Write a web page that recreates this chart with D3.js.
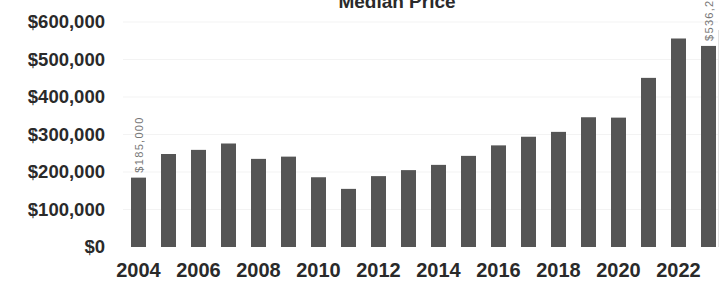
<!DOCTYPE html>
<html>
<head>
<meta charset="utf-8">
<script src="https://cdn.jsdelivr.net/npm/d3@7"></script>
<style>
  html, body { margin: 0; padding: 0; background: #fff; }
  svg { display: block; font-family: "Liberation Sans", Arial, sans-serif; }
</style>
</head>
<body>
<svg id="chart" width="725" height="281"></svg>
<script>
  'use strict';

  // data
  var years = [2004, 2005, 2006, 2007, 2008, 2009, 2010, 2011, 2012, 2013,
    2014, 2015, 2016, 2017, 2018, 2019, 2020, 2021, 2022, 2023];
  var prices = [185000, 248000, 259000, 276000, 235000, 241000, 186000, 155000, 189000, 205000,
    219000, 243000, 271000, 294000, 307000, 346000, 345000, 451000, 556000, 536200];
  var yTicks = [0, 100000, 200000, 300000, 400000, 500000, 600000];
  var xTickYears = [2004, 2006, 2008, 2010, 2012, 2014, 2016, 2018, 2020, 2022];
  var labelledYears = [2004, 2023];

  var svg = d3.select('#chart');

  var x = d3.scaleBand()
    .domain(years)
    .range([123.5, 723.5])
    .paddingInner(0.5)
    .paddingOuter(0.25);

  var y = d3.scaleLinear()
    .domain([0, 600000])
    .range([247, 22]);

  var money = function(v) {
    return '$' + d3.format(',')(v);
  };

  // faint gridlines
  svg.append('g')
    .selectAll('line')
    .data(yTicks.slice(1))
    .join('line')
    .attr('x1', 123)
    .attr('x2', 718)
    .attr('y1', function(d) { return y(d); })
    .attr('y2', function(d) { return y(d); })
    .attr('stroke', '#f3f3f3')
    .attr('stroke-width', 1);

  svg.append('line')
    .attr('x1', 718.5).attr('x2', 718.5)
    .attr('y1', 30).attr('y2', 247)
    .attr('stroke', '#e2e2e2');

  // bars
  svg.append('g')
    .selectAll('rect')
    .data(years)
    .join('rect')
    .attr('x', function(d) { return x(d); })
    .attr('width', x.bandwidth())
    .attr('y', function(d, i) { return y(prices[i]); })
    .attr('height', function(d, i) { return y(0) - y(prices[i]); })
    .attr('fill', '#555555');

  // value labels, rotated
  svg.append('g')
    .selectAll('text')
    .data(labelledYears)
    .join('text')
    .attr('transform', function(d) {
      var cx = x(d) + x.bandwidth() / 2;
      var top = y(prices[years.indexOf(d)]) - 5;
      return 'translate(' + (cx + 4) + ',' + top + ') rotate(-90)';
    })
    .attr('font-size', 11)
    .attr('letter-spacing', 1.3)
    .attr('fill', '#777')
    .text(function(d) { return money(prices[years.indexOf(d)]); });

  // y axis labels
  svg.append('g')
    .selectAll('text')
    .data(yTicks)
    .join('text')
    .attr('x', 105)
    .attr('y', function(d) { return y(d); })
    .attr('dy', '0.35em')
    .attr('text-anchor', 'end')
    .attr('font-size', 18.5)
    .attr('font-weight', 'bold')
    .attr('fill', '#2a2a2a')
    .text(money);

  // x axis labels
  svg.append('g')
    .selectAll('text')
    .data(xTickYears)
    .join('text')
    .attr('x', function(d) { return x(d) + x.bandwidth() / 2; })
    .attr('y', 277)
    .attr('text-anchor', 'middle')
    .attr('font-size', 20)
    .attr('font-weight', 'bold')
    .attr('fill', '#2a2a2a')
    .text(function(d) { return d; });

  // title, cut off at the top like the source
  svg.append('text')
    .attr('x', 397)
    .attr('y', 8)
    .attr('text-anchor', 'middle')
    .attr('font-size', 19)
    .attr('font-weight', 'bold')
    .attr('fill', '#2a2a2a')
    .text('Median Price');
</script>
</body>
</html>
